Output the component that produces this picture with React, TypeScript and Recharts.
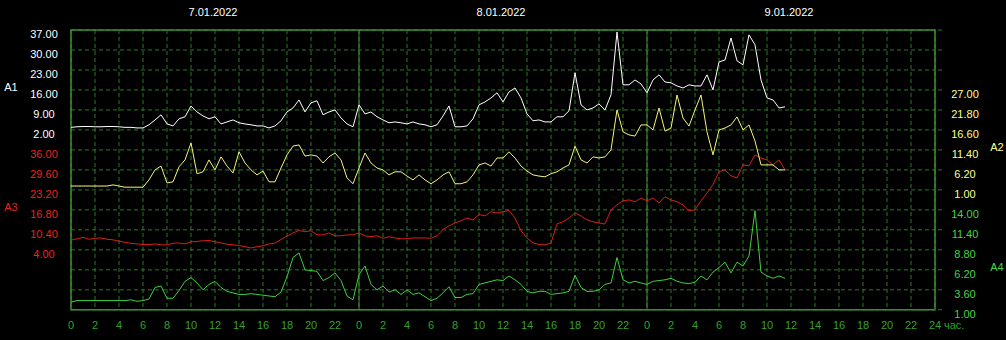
import React from "react";
import {
  LineChart,
  Line,
  XAxis,
  YAxis,
  CartesianGrid,
  ReferenceLine,
  ReferenceArea,
} from "recharts";

// half-hour samples starting at 7.01.2022 00:00
const STEP_HOURS = 0.5;

const dayLabels = ["7.01.2022", "8.01.2022", "9.01.2022"];
const dayCenters = [12, 36, 60];
const hourTicks = [
  0, 2, 4, 6, 8, 10, 12, 14, 16, 18, 20, 22, 24, 26, 28, 30, 32, 34, 36, 38, 40, 42, 44, 46, 48,
  50, 52, 54, 56, 58, 60, 62, 64, 66, 68, 70, 72,
];
const hourUnit = "час.";

const a1Ticks = [37, 30, 23, 16, 9, 2];
const a2Ticks = [27, 21.8, 16.6, 11.4, 6.2, 1];
const a3Ticks = [36, 29.6, 23.2, 16.8, 10.4, 4];
const a4Ticks = [14, 11.4, 8.8, 6.2, 3.6, 1];

const a1 = [
  2.9, 3.1, 3.2, 3.2, 3.1, 3.1, 3.2, 3.2, 3.1, 2.9,
  2.9, 2.7, 2.7, 3.8, 5.5, 7.3, 4.1, 3.4, 5.9, 6.6,
  10.4, 8.3, 6.9, 5.9, 6.6, 4.1, 4.8, 5.5, 4.5, 4.1,
  3.8, 3.4, 3.4, 2.7, 3.4, 5.2, 8.3, 9.7, 12.5, 8.3,
  11.5, 12.2, 7.3, 8.3, 9.0, 6.2, 4.1, 3.1, 10.8, 7.6,
  8.3, 6.6, 5.5, 4.5, 4.8, 4.5, 4.1, 4.8, 4.1, 3.8,
  3.1, 3.8, 6.9, 10.4, 3.1, 3.1, 3.4, 5.9, 10.8, 11.8,
  13.2, 15.0, 11.8, 15.3, 16.7, 13.2, 7.6, 5.2, 5.5, 4.8,
  4.8, 6.6, 6.6, 8.7, 22.0, 10.8, 9.0, 9.7, 11.1, 9.0,
  14.3, 36.3, 17.8, 17.8, 19.5, 18.1, 15.0, 19.5, 21.3, 18.8,
  18.5, 17.4, 16.7, 17.8, 17.4, 17.4, 21.3, 16.0, 25.8, 26.5,
  34.2, 26.2, 24.8, 35.3, 31.8, 19.5, 13.2, 12.5, 9.7, 10.1,
];

const a2 = [
  2.0, 2.0, 2.0, 2.0, 2.0, 2.0, 2.0, 2.3, 2.0, 1.7,
  1.7, 1.7, 1.7, 3.6, 6.2, 7.2, 2.8, 3.1, 7.0, 8.8,
  13.2, 5.2, 5.7, 8.8, 6.2, 9.6, 7.2, 5.4, 10.9, 8.0,
  6.2, 4.9, 5.9, 3.1, 3.1, 6.7, 10.1, 12.4, 12.7, 9.8,
  10.1, 9.8, 8.0, 9.6, 10.6, 8.8, 4.1, 2.6, 6.7, 10.6,
  8.0, 6.7, 6.2, 4.9, 5.7, 5.7, 4.6, 3.6, 4.9, 3.6,
  2.6, 3.6, 4.9, 5.7, 2.6, 2.6, 3.1, 4.9, 7.5, 8.0,
  7.2, 9.3, 9.3, 10.9, 9.3, 7.2, 5.9, 4.9, 4.6, 4.4,
  5.2, 5.7, 6.7, 7.5, 12.4, 8.8, 8.0, 9.6, 9.3, 9.6,
  11.4, 21.8, 16.1, 15.3, 15.0, 17.9, 17.9, 16.6, 22.3, 16.3,
  17.1, 25.7, 19.7, 17.6, 21.8, 25.7, 16.1, 10.1, 16.6, 17.1,
  17.9, 20.0, 16.6, 17.9, 13.7, 7.5, 7.5, 7.5, 6.2, 6.2,
];

const a3 = [
  7.1, 7.5, 8.0, 7.4, 7.7, 7.8, 7.4, 7.2, 6.8, 6.4,
  6.1, 5.9, 5.7, 5.7, 5.9, 5.6, 5.6, 6.1, 6.2, 5.9,
  6.6, 6.7, 6.9, 7.0, 6.6, 6.2, 5.8, 5.6, 5.4, 5.0,
  4.6, 5.0, 5.3, 5.9, 6.2, 7.3, 8.4, 9.4, 10.2, 9.8,
  10.1, 8.8, 8.8, 9.4, 8.5, 8.5, 8.8, 8.8, 9.4, 8.5,
  8.2, 8.5, 7.7, 8.2, 7.8, 7.5, 7.6, 7.8, 7.8, 7.8,
  7.7, 8.5, 10.5, 11.7, 12.6, 13.3, 14.2, 13.6, 15.3, 14.9,
  16.2, 15.8, 16.2, 16.6, 14.2, 10.1, 7.8, 6.2, 5.7, 5.6,
  6.2, 12.3, 13.0, 14.2, 15.8, 14.9, 13.6, 13.0, 12.6, 12.3,
  16.8, 18.4, 19.7, 20.0, 19.4, 20.6, 19.7, 20.6, 19.0, 21.0,
  20.0, 19.4, 18.4, 16.5, 16.8, 19.7, 22.2, 24.9, 29.0, 29.6,
  27.7, 27.0, 31.2, 30.9, 34.4, 33.4, 32.8, 31.2, 32.8, 29.6,
];

const a4 = [
  2.0, 2.2, 2.2, 2.2, 2.2, 2.2, 2.2, 2.2, 2.2, 2.2,
  2.3, 2.1, 2.2, 2.4, 3.9, 4.1, 2.5, 2.5, 3.5, 4.7,
  5.2, 4.5, 3.6, 4.3, 4.7, 3.9, 3.4, 3.2, 3.0, 3.0,
  3.1, 3.0, 2.9, 2.8, 2.7, 3.3, 5.3, 7.8, 8.4, 6.2,
  6.1, 6.0, 4.8, 5.2, 5.8, 4.8, 2.8, 2.3, 5.6, 6.7,
  4.3, 3.6, 4.1, 3.3, 3.6, 3.0, 3.6, 3.0, 3.2, 2.7,
  2.2, 2.5, 3.2, 4.0, 2.6, 2.6, 3.0, 3.1, 4.3, 4.5,
  4.7, 4.9, 4.8, 5.4, 4.9, 4.3, 3.4, 3.2, 3.4, 3.4,
  3.0, 3.1, 3.2, 3.4, 5.5, 3.9, 3.4, 3.4, 3.6, 4.3,
  4.5, 7.8, 4.9, 4.5, 4.7, 4.5, 4.3, 4.7, 4.8, 4.9,
  5.1, 4.7, 4.5, 4.4, 4.6, 5.4, 4.9, 5.9, 6.5, 7.2,
  5.8, 7.2, 6.7, 8.0, 13.9, 5.9, 5.4, 5.1, 5.4, 5.1,
];

const BG = "#000000";
const GRID = "#2b7a24";
const BORDER = "#3d8f30";
const AXIS_TEXT = "#34a02c";
const FONT = "'Liberation Sans', Arial, sans-serif";

// 14 grid rows; each series owns a band of 5 rows
const ROWS = 14;
const rowTicks = [0, 1, 2, 3, 4, 5, 6, 7, 8, 9, 10, 11, 12, 13, 14];
// tiny pad below row 0 so the bottom tick is not dropped
const ROW_DOMAIN: [number, number] = [-0.01, ROWS];

const scales = [
  { key: "a1", name: "A1", ticks: a1Ticks, topRow: 14, side: "left", text: "#ffffff", line: "#ffffff" },
  { key: "a3", name: "A3", ticks: a3Ticks, topRow: 8, side: "left", text: "#e8241c", line: "#d42018" },
  { key: "a2", name: "A2", ticks: a2Ticks, topRow: 11, side: "right", text: "#ffff8c", line: "#f4f47a" },
  { key: "a4", name: "A4", ticks: a4Ticks, topRow: 5, side: "right", text: "#44d444", line: "#3fcf3f" },
];

const domainOf = (ticks: number[], topRow: number): [number, number] => {
  const step = (ticks[0] - ticks[ticks.length - 1]) / (ticks.length - 1);
  return [ticks[0] - (topRow - ROW_DOMAIN[0]) * step, ticks[0] + (ROWS - topRow) * step];
};

const data = a1.map((v, i) => ({
  h: i * STEP_HOURS,
  a1: v,
  a2: a2[i],
  a3: a3[i],
  a4: a4[i],
}));

const RowTick = (props: any) => {
  const { x, y, payload, side } = props;
  const row = payload.value;
  const s = scales.find(
    (sc) => sc.side === side && row <= sc.topRow && row > sc.topRow - sc.ticks.length
  );
  if (!s) return null;
  const left = side === "left";
  return (
    <g>
      <text x={left ? x - 27 : x + 23} y={y + 8} textAnchor="middle" fill={s.text} fontSize={11} fontFamily={FONT}>
        {s.ticks[s.topRow - row].toFixed(2)}
      </text>
      {row === s.topRow - 3 && (
        <text x={left ? x - 60 : x + 55} y={y + 1} textAnchor="middle" fill={s.text} fontSize={11} fontFamily={FONT}>
          {s.name}
        </text>
      )}
    </g>
  );
};

const HourTick = (props: any) => {
  const { x, y, payload } = props;
  const v = payload.value;
  const last = v === hourTicks[hourTicks.length - 1];
  return (
    <g fontSize={11} fontFamily={FONT} fill={AXIS_TEXT}>
      <text x={x} y={y + 19} textAnchor="middle">
        {last ? 24 : v % 24}
      </text>
      {last && (
        <text x={x + 9} y={y + 19} textAnchor="start">
          {hourUnit}
        </text>
      )}
    </g>
  );
};

const DayTick = (props: any) => {
  const { x, y, payload } = props;
  const idx = dayCenters.indexOf(payload.value);
  return (
    <text x={x - 2} y={y - 14} textAnchor="middle" fill="#ffffff" fontSize={11} fontFamily={FONT}>
      {dayLabels[idx]}
    </text>
  );
};

export default function App() {
  return (
    <div style={{ position: "absolute", left: 0, top: 0, width: 1006, height: 340, background: BG }}>
      <LineChart width={1006} height={340} data={data} margin={{ top: 0, right: 0, bottom: 0, left: 0 }}>
        <CartesianGrid
          xAxisId="hours"
          yAxisId="rows"
          stroke={GRID}
          strokeDasharray="4 3"
          horizontalValues={rowTicks}
          verticalValues={hourTicks}
        />
        <XAxis
          xAxisId="hours"
          dataKey="h"
          type="number"
          domain={[0, 72]}
          ticks={hourTicks}
          allowDataOverflow
          height={30}
          axisLine={false}
          tickLine={false}
          tickSize={0}
          tickMargin={0}
          tick={<HourTick />}
        />
        <XAxis
          xAxisId="days"
          dataKey="h"
          type="number"
          orientation="top"
          domain={[0, 72]}
          ticks={dayCenters}
          allowDataOverflow
          height={30}
          axisLine={false}
          tickLine={false}
          tickSize={0}
          tickMargin={0}
          tick={<DayTick />}
        />
        <YAxis
          yAxisId="rows"
          type="number"
          domain={ROW_DOMAIN}
          ticks={rowTicks}
          allowDataOverflow
          interval={0}
          width={71}
          axisLine={false}
          tickLine={false}
          tickSize={0}
          tickMargin={0}
          tick={<RowTick side="left" />}
        />
        <YAxis
          yAxisId="rowsR"
          orientation="right"
          type="number"
          domain={ROW_DOMAIN}
          ticks={rowTicks}
          allowDataOverflow
          interval={0}
          width={71}
          axisLine={false}
          tickLine={{ stroke: GRID, strokeDasharray: "4 3" }}
          tickSize={7}
          tickMargin={0}
          tick={<RowTick side="right" />}
        />
        {scales.map((s) => (
          <YAxis
            key={s.key}
            yAxisId={s.key}
            hide
            width={0}
            orientation={s.side as "left" | "right"}
            type="number"
            domain={domainOf(s.ticks, s.topRow)}
            allowDataOverflow
          />
        ))}
        <ReferenceLine xAxisId="hours" yAxisId="rows" x={24} stroke={BORDER} ifOverflow="visible" />
        <ReferenceLine xAxisId="hours" yAxisId="rows" x={48} stroke={BORDER} ifOverflow="visible" />
        <ReferenceArea
          xAxisId="hours"
          yAxisId="rows"
          x1={0}
          x2={72}
          y1={0}
          y2={ROWS}
          fill="none"
          stroke={BORDER}
          strokeWidth={1.5}
          ifOverflow="visible"
        />
        {scales.map((s) => (
          <Line
            key={s.key}
            xAxisId="hours"
            yAxisId={s.key}
            dataKey={s.key}
            type="linear"
            stroke={s.line}
            strokeWidth={1}
            dot={false}
            isAnimationActive={false}
          />
        ))}
      </LineChart>
    </div>
  );
}
